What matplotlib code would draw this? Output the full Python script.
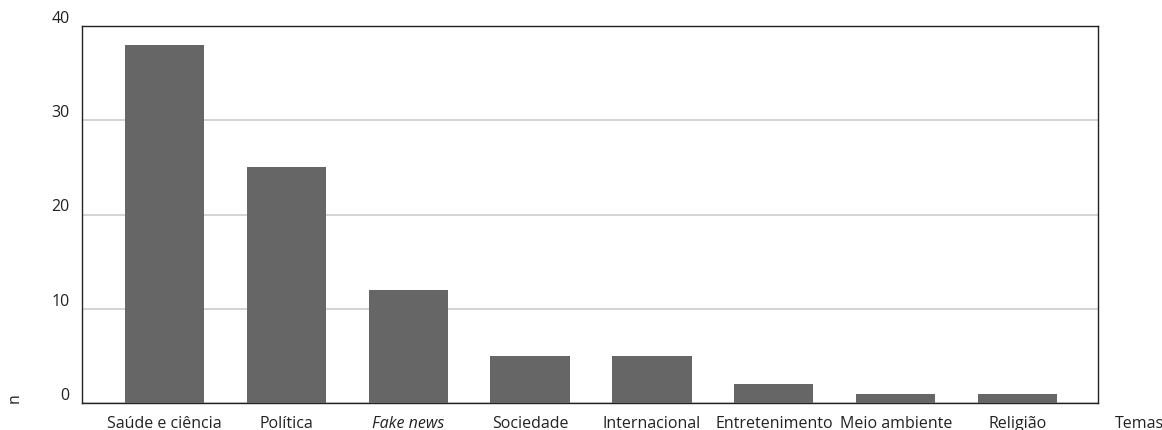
import matplotlib.pyplot as plt

plt.rcParams['font.family'] = ['Open Sans', 'DejaVu Sans']

# Dados: número de publicações por tema
temas = ['Saúde e ciência', 'Política', 'Fake news', 'Sociedade',
         'Internacional', 'Entretenimento', 'Meio ambiente', 'Religião']
n = [38, 25, 12, 5, 5, 2, 1, 1]
yticks = [0, 10, 20, 30, 40]

fig = plt.figure(figsize=(11.62, 4.31), dpi=100)
ax = fig.add_axes([82 / 1162, 27 / 431, 1016 / 1162, 377 / 431])

x = list(range(len(temas)))
ax.bar(x, n, width=0.65, color='#666666', zorder=3)

ax.set_xlim(-0.677, 7.66)
ax.set_ylim(0, 40)
ax.set_yticks(yticks)
ax.set_yticklabels([str(v) for v in yticks])
ax.yaxis.grid(True, color='#cccccc', linewidth=1.2, zorder=0)
ax.tick_params(axis='y', length=0, pad=9, labelsize=11.5, labelcolor='#222222')
for lab in ax.get_yticklabels():
    lab.set_va('bottom')

ax.set_xticks(x)
ax.set_xticklabels(temas)
ax.tick_params(axis='x', length=0, pad=9, labelsize=11.5, labelcolor='#222222')
ax.get_xticklabels()[2].set_style('italic')

for s in ax.spines.values():
    s.set_color('#222222')
    s.set_linewidth(1.0)

fig.text(15 / 1162, 1 - 398 / 431, 'n', rotation=90, ha='center', va='center',
         fontsize=11.5, color='#222222')
fig.text(1139 / 1162, 1 - 424 / 431, 'Temas', ha='center', va='center',
         fontsize=11.5, color='#222222')

fig.savefig('out.png', dpi=100)
